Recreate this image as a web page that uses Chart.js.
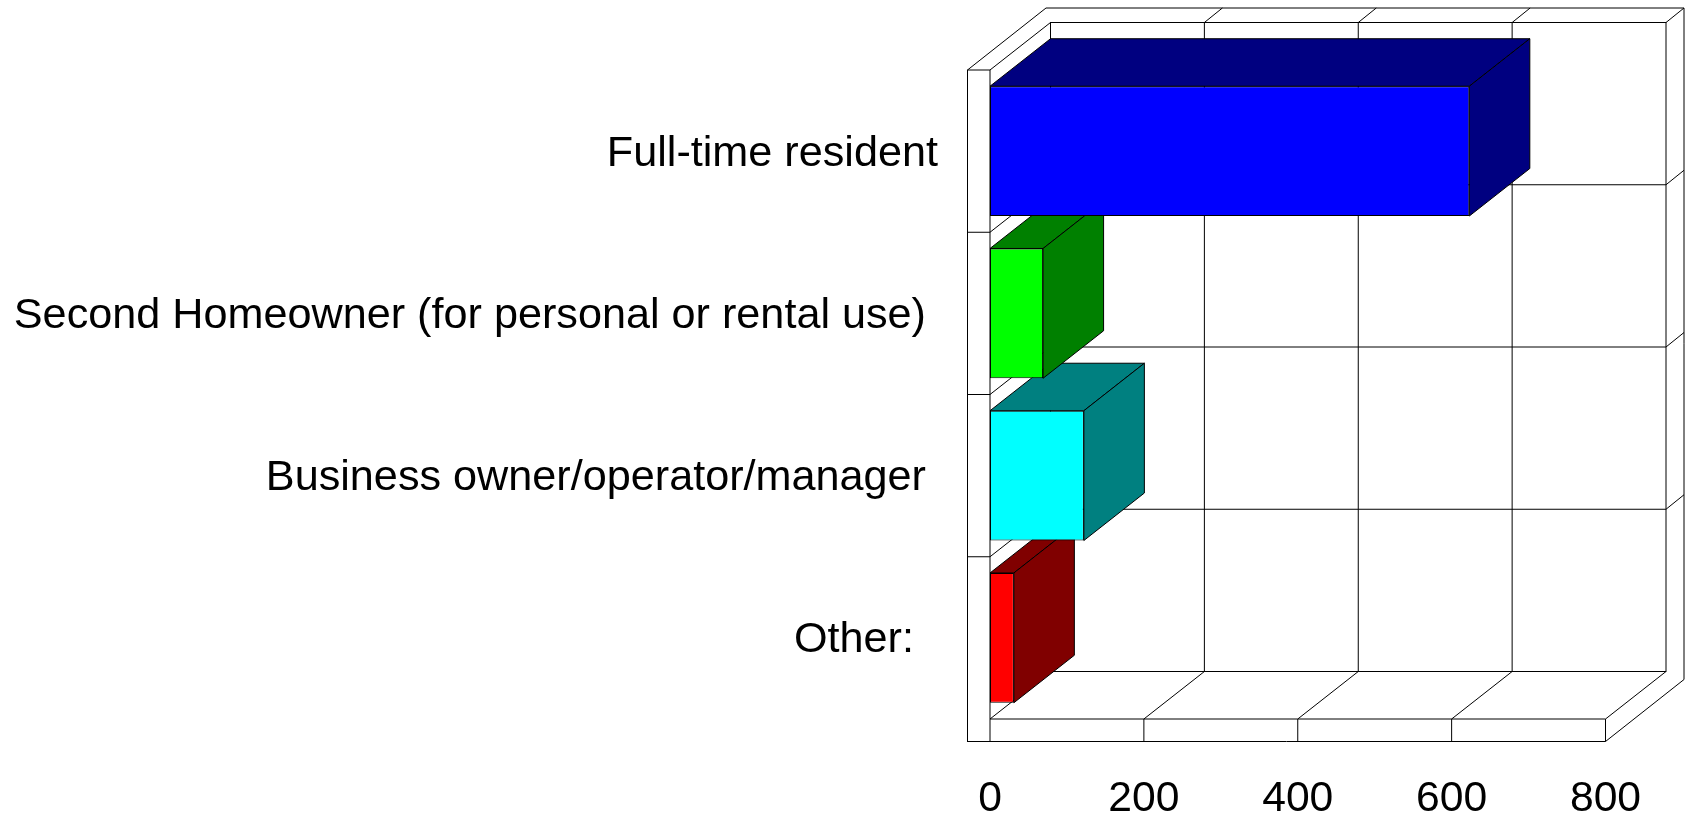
<!DOCTYPE html>
<html lang="en">

<head>
  <meta charset="UTF-8">
  <title>Respondent type</title>
  <style>
    body {
      margin: 0;
      background-color: #ffffff;
    }
    canvas {
      display: block;
    }
  </style>
  <script src="https://cdn.jsdelivr.net/npm/chart.js"></script>
</head>

<body>
  <canvas id="chart" width="1685" height="817"></canvas>
  <script>
    // trailing spaces are part of the labels, they push the text away from the wall
    const categories = ['Full-time resident', 'Second Homeowner (for personal or rental use) ', 'Business owner/operator/manager ', 'Other:  '];
    const values = [623, 69, 122, 31];
    const frontColors = ['#0000ff', '#00ff00', '#00ffff', '#ff0000'];
    const sideColors = ['#000080', '#008000', '#008080', '#800000'];
    const axisMin = 0;
    const axisMax = 800;
    const axisStep = 200;

    // 3D offsets: back wall and the thin outer shell
    const depthX = 60.5;
    const depthY = -47.5;
    const shellX = 18;
    const shellY = -14.5;
    const wall = 22.5;

    function line(ctx, x1, y1, x2, y2) {
      ctx.beginPath();
      ctx.moveTo(x1, y1);
      ctx.lineTo(x2, y2);
      ctx.stroke();
    }

    function poly(ctx, points, fill) {
      ctx.beginPath();
      points.forEach((p, i) => i ? ctx.lineTo(p[0], p[1]) : ctx.moveTo(p[0], p[1]));
      ctx.closePath();
      ctx.fillStyle = fill;
      ctx.fill();
      ctx.stroke();
    }

    const frame3d = {
      id: 'frame3d',
      beforeDatasetsDraw(chart) {
        const ctx = chart.ctx;
        const { left, right, top, bottom } = chart.chartArea;
        const xScale = chart.scales.x;
        const yScale = chart.scales.y;
        const bx = depthX, by = depthY;
        const ox = depthX + shellX, oy = depthY + shellY;

        ctx.save();
        ctx.strokeStyle = '#000000';
        ctx.lineWidth = 1;

        // outer shell
        const outerLeft = left - wall;
        const outerBottom = bottom + wall;
        ctx.strokeRect(outerLeft, top, wall, bottom - top + wall);
        line(ctx, outerLeft, outerBottom, right, outerBottom);
        line(ctx, right, bottom, right, outerBottom);
        line(ctx, outerLeft, top, left + ox - wall, top + oy);
        line(ctx, left + ox - wall, top + oy, right + ox, top + oy);
        line(ctx, right + ox, top + oy, right + ox, bottom + wall + oy);
        line(ctx, right, outerBottom, right + ox, bottom + wall + oy);

        // back wall and floor
        ctx.strokeRect(left + bx, top + by, right - left, bottom - top);
        line(ctx, left, top, left + bx, top + by);
        line(ctx, left, bottom, left + bx, bottom + by);
        line(ctx, left, bottom, right, bottom);
        line(ctx, right, bottom, right + bx, bottom + by);
        line(ctx, right + bx, top + by, right + ox, top + oy);

        // value grid
        xScale.ticks.forEach(t => {
          const x = xScale.getPixelForValue(t.value);
          if (t.value === axisMin || t.value === axisMax) return;
          line(ctx, x, bottom, x, outerBottom);
          line(ctx, x, bottom, x + bx, bottom + by);
          line(ctx, x + bx, bottom + by, x + bx, top + by);
          line(ctx, x + bx, top + by, x + ox, top + oy);
        });

        // category grid, at the band edges
        const band = (bottom - top) / categories.length;
        for (let i = 1; i < categories.length; i++) {
          const y = yScale.getPixelForValue(i) - band / 2;
          line(ctx, outerLeft, y, left, y);
          line(ctx, left, y, left + bx, y + by);
          line(ctx, left + bx, y + by, right + bx, y + by);
          line(ctx, right + bx, y + by, right + ox, y + oy);
        }

        // bar sides, lowest bar first so the upper ones sit on top
        const bars = chart.getDatasetMeta(0).data;
        for (let i = bars.length - 1; i >= 0; i--) {
          const b = bars[i];
          const y1 = b.y - b.height / 2;
          const y2 = b.y + b.height / 2;
          poly(ctx, [[b.base, y1], [b.x, y1], [b.x + bx, y1 + by], [b.base + bx, y1 + by]], sideColors[i]);
          poly(ctx, [[b.x, y1], [b.x + bx, y1 + by], [b.x + bx, y2 + by], [b.x, y2]], sideColors[i]);
        }
        ctx.restore();
      }
    };

    new Chart(document.getElementById('chart').getContext('2d'), {
      type: 'bar',
      plugins: [frame3d],
      data: {
        labels: categories,
        datasets: [{
          data: values,
          backgroundColor: frontColors,
          borderColor: '#000000',
          borderWidth: 1,
          borderSkipped: false,
          barPercentage: 0.8,
          categoryPercentage: 1
        }]
      },
      options: {
        indexAxis: 'y',
        responsive: false,
        animation: false,
        layout: { autoPadding: false, padding: { top: 70, right: 79.5 } },
        plugins: { legend: { display: false }, tooltip: { enabled: false } },
        scales: {
          x: {
            min: axisMin,
            max: axisMax,
            grid: { display: false },
            border: { display: false },
            ticks: {
              stepSize: axisStep,
              color: '#000000',
              maxRotation: 0,
              padding: 47,
              font: { family: 'Liberation Sans', size: 42.67 }
            },
            // tick padding would otherwise eat into the plot width
            afterFit(scale) { scale.height = 98; scale.paddingRight = 0; }
          },
          y: {
            grid: { display: false },
            border: { display: false },
            ticks: {
              color: '#000000',
              padding: 44,
              labelOffset: 2.5,
              autoSkip: false,
              font: { family: 'Liberation Sans', size: 43.2 }
            },
            afterFit(scale) { scale.width = 990; }
          }
        }
      }
    });
  </script>
</body>

</html>
